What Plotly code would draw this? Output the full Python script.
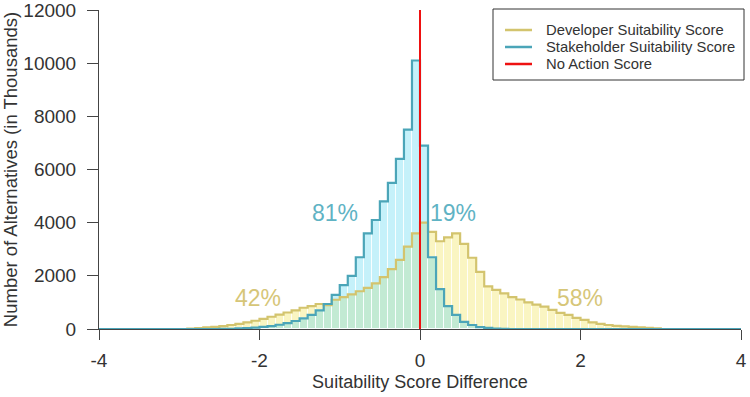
import plotly.graph_objects as go

# ---------------- data ----------------
bin_width = 0.1
bin_start = -3.0  # lower edge of first bin
# counts (in thousands) per 0.1-wide bin, from -3.0 to 3.0
developer = [0, 15, 35, 60, 80, 110, 150, 190, 250, 310,
             380, 460, 540, 620, 700, 800, 860, 940, 900, 1100,
             1200, 1300, 1420, 1550, 1720, 1950, 2250, 2600, 3100, 3600,
             4000, 3650, 3300, 3450, 3600, 3200, 2680, 2150, 1600, 1470,
             1340, 1200, 1110, 1000, 920, 840, 720, 610, 530, 420,
             340, 250, 190, 150, 120, 100, 80, 60, 40, 20]
stakeholder = [0, 0, 0, 0, 0, 5, 10, 20, 30, 50,
               80, 110, 160, 220, 300, 400, 530, 700, 940, 1280,
               1650, 2000, 2700, 3600, 4100, 4800, 5500, 6400, 7500, 10100,
               6900, 2700, 1500, 860, 530, 270, 150, 70, 40, 15,
               5, 0, 0, 0, 0, 0, 0, 0, 0, 0,
               0, 0, 0, 0, 0, 0, 0, 0, 0, 0]
no_action = 0.0
x_range = [-4, 4]
y_range = [0, 12000]
x_ticks = [-4, -2, 0, 2, 4]
y_ticks = [0, 2000, 4000, 6000, 8000, 10000, 12000]
labels = {"81%": (-1.06, 4360), "19%": (0.41, 4360), "42%": (-2.02, 1170), "58%": (1.99, 1170)}
label_series = {"81%": "stk", "19%": "stk", "42%": "dev", "58%": "dev"}
legend_names = ["Developer Suitability Score", "Stakeholder Suitability Score", "No Action Score"]

# ---------------- derived ----------------
n = len(developer)
centers = [round(bin_start + bin_width * (i + 0.5), 4) for i in range(n)]
edges = [round(bin_start + bin_width * i, 4) for i in range(n + 1)]
step_x = [x_range[0]] + edges + [x_range[1]]

def step_y(vals):
    return [0] + list(vals) + [0, 0]

DEV_LINE = "#d3c46e"
STK_LINE = "#4ba5b8"
RED = "#ee1111"
DEV_FILL = "rgba(242,228,95,0.38)"
STK_FILL = "rgba(95,215,242,0.36)"
FONT = "Liberation Sans, Arial, sans-serif"
TXT = "#333333"

fig = go.Figure()
fig.add_trace(go.Bar(x=centers, y=developer, width=bin_width,
                     marker=dict(color=DEV_FILL, line=dict(color="rgba(255,255,255,0.8)", width=1)),
                     showlegend=False, hoverinfo="skip"))
fig.add_trace(go.Scatter(x=step_x, y=step_y(developer), mode="lines",
                         line=dict(color=DEV_LINE, width=2.2, shape="hv"),
                         showlegend=False, hoverinfo="skip"))
fig.add_trace(go.Bar(x=centers, y=stakeholder, width=bin_width,
                     marker=dict(color=STK_FILL, line=dict(color="rgba(255,255,255,0.8)", width=1)),
                     showlegend=False, hoverinfo="skip"))
fig.add_trace(go.Scatter(x=step_x, y=step_y(stakeholder), mode="lines",
                         line=dict(color=STK_LINE, width=2.2, shape="hv"),
                         showlegend=False, hoverinfo="skip"))
fig.add_trace(go.Scatter(x=[no_action, no_action], y=y_range, mode="lines",
                         line=dict(color=RED, width=2),
                         showlegend=False, hoverinfo="skip"))

for txt, (lx, ly) in labels.items():
    fig.add_annotation(x=lx, y=ly, text=txt, showarrow=False,
                       font=dict(family=FONT, size=23,
                                 color="#5fb3c4" if label_series[txt] == "stk" else "#d6c678"))

# ---- custom legend (paper coords; plot area 642 x 319 px) ----
PW, PH = 642.0, 319.0
def px(xp):  # pixel offset from plot left -> paper
    return xp / PW
def py(yp):  # pixel offset from plot top -> paper
    return 1 - yp / PH

fig.add_shape(type="rect", xref="paper", yref="paper",
              x0=px(394), x1=px(645), y0=py(70), y1=py(-1),
              line=dict(color=TXT, width=1), fillcolor="white", layer="above")
leg_colors = [DEV_LINE, STK_LINE, RED]
for i, (name, col) in enumerate(zip(legend_names, leg_colors)):
    yy = py(20 + 17 * i)
    fig.add_shape(type="line", xref="paper", yref="paper",
                  x0=px(406), x1=px(433), y0=yy, y1=yy,
                  line=dict(color=col, width=2.5), layer="above")
    fig.add_annotation(xref="paper", yref="paper", x=px(445), y=yy, text=name,
                       showarrow=False, xanchor="left", yanchor="middle",
                       font=dict(family=FONT, size=14.8, color=TXT))

fig.update_layout(
    width=750, height=397,
    margin=dict(l=99, r=9, t=10, b=68, autoexpand=False),
    paper_bgcolor="white", plot_bgcolor="white",
    barmode="overlay", bargap=0,
    font=dict(family=FONT, size=18, color=TXT),
    showlegend=False,
)
fig.update_xaxes(range=x_range, tickvals=x_ticks, ticktext=[str(v) for v in x_ticks],
                 showgrid=False, zeroline=False, showline=True, linecolor="#444444", linewidth=1,
                 ticks="outside", ticklen=10, tickcolor="#444444", ticklabelstandoff=4,
                 automargin=False, ticklabeloverflow="allow",
                 title=dict(text="Suitability Score Difference", standoff=5,
                            font=dict(family=FONT, size=18, color=TXT)),
                 tickfont=dict(family=FONT, size=19, color=TXT))
fig.update_yaxes(range=y_range, tickvals=y_ticks, ticktext=[str(v) for v in y_ticks],
                 showgrid=False, zeroline=False, showline=True, linecolor="#444444", linewidth=1,
                 ticks="outside", ticklen=11, tickcolor="#444444", ticklabelstandoff=7,
                 automargin=False, ticklabeloverflow="allow",
                 title=dict(text="Number of Alternatives (in Thousands)", standoff=0,
                            font=dict(family=FONT, size=18.5, color=TXT)),
                 tickfont=dict(family=FONT, size=19, color=TXT))

fig.write_html("out.html")
